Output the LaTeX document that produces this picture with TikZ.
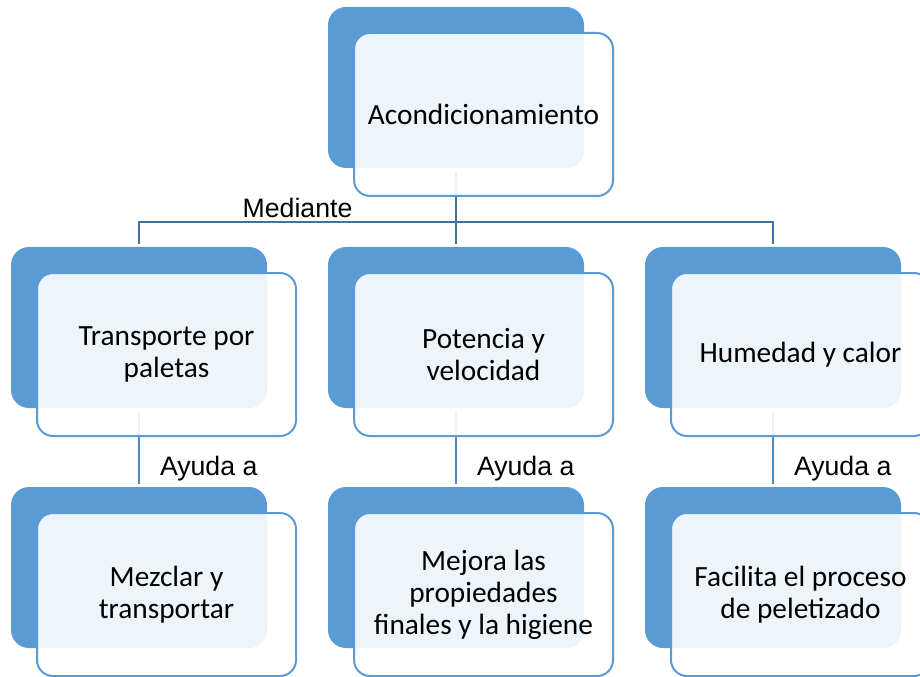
\documentclass[tikz,border=0pt]{standalone}
\usepackage{fontspec}
\setmainfont{Carlito}
\newfontfamily\labelfont{Liberation Sans}
\usetikzlibrary{positioning, calc}
\definecolor{accblue}{HTML}{5B9BD5}
\definecolor{linkblue}{HTML}{41719C}
\definecolor{sublink}{HTML}{5289C4}

\begin{document}
\begin{tikzpicture}[
        x=0.75pt, y=-0.75pt,
        back/.style={fill=accblue, rounded corners=13.5pt, minimum width=192pt,
                     minimum height=120.75pt, inner sep=0pt, outer sep=0pt},
        front/.style={draw=accblue, line width=1.5pt, fill=white, fill opacity=0.9,
                      text opacity=1, rounded corners=12pt, minimum width=194.25pt,
                      minimum height=122.25pt, inner sep=0pt, outer sep=0pt,
                      align=center, font=\fontsize{22pt}{24pt}\selectfont},
        link/.style={draw=linkblue, line width=1.5pt},
        sublinkstyle/.style={draw=sublink, line width=1.5pt, shorten <=3pt, shorten >=2.25pt},
        lbl/.style={font=\labelfont\fontsize{20pt}{24pt}\selectfont, inner sep=0pt},
      ]
      \useasboundingbox (0,0) rectangle (920,677);
      \clip (0,0) rectangle (920,677);

      % back panels
      \node[back] (acond-b) at (456, 87.5) {};
      \node[back] (trans-b) at (139, 327.5) {};
      \node[back] (poten-b) at (456, 327.5) {};
      \node[back] (humed-b) at (773, 327.5) {};
      \node[back] (mezcl-b) at (139, 567.5) {};
      \node[back] (mejor-b) at (456, 567.5) {};
      \node[back] (facil-b) at (773, 567.5) {};

      % connectors
      \coordinate (fork) at ($(acond-b.south)+(0,54)$);
      \draw[link, shorten <=3pt] (acond-b.south) -- (fork);
      \draw[link, shorten <=2.25pt] (trans-b.north) |- node[lbl, pos=0.75, anchor=south, yshift=2.5pt] {Mediante} (fork);
      \draw[link, shorten >=2.25pt] (fork) -- (poten-b.north);
      \draw[link, shorten >=2.25pt] (fork) -| (humed-b.north);
      \draw[sublinkstyle] (trans-b.south) -- node[lbl, pos=0.86, anchor=base west, xshift=15pt] {Ayuda a} (mezcl-b.north);
      \draw[sublinkstyle] (poten-b.south) -- node[lbl, pos=0.86, anchor=base west, xshift=15pt] {Ayuda a} (mejor-b.north);
      \draw[sublinkstyle] (humed-b.south) -- node[lbl, pos=0.86, anchor=base west, xshift=15pt] {Ayuda a} (facil-b.north);

      % front panels
      \node[front] (acond) at ([shift={(27.5,27)}]acond-b.center) {Acondicionamiento};
      \node[front] (trans) at ([shift={(27.5,27)}]trans-b.center) {Transporte por\\paletas};
      \node[front] (poten) at ([shift={(27.5,27)}]poten-b.center) {Potencia y\\velocidad};
      \node[front] (humed) at ([shift={(27.5,27)}]humed-b.center) {Humedad y calor};
      \node[front] (mezcl) at ([shift={(27.5,27)}]mezcl-b.center) {Mezclar y\\transportar};
      \node[front] (mejor) at ([shift={(27.5,27)}]mejor-b.center) {Mejora las\\propiedades\\finales y la higiene};
      \node[front] (facil) at ([shift={(27.5,27)}]facil-b.center) {Facilita el proceso\\de peletizado};
    \end{tikzpicture}
\end{document}
